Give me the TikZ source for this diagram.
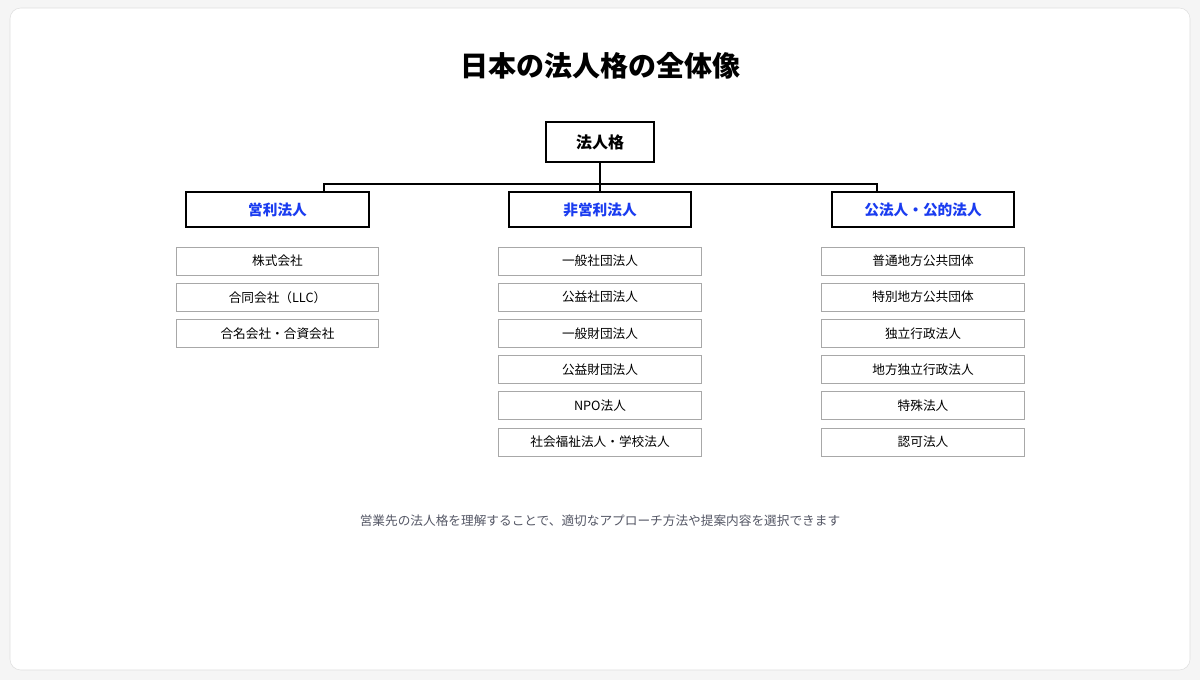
\documentclass[tikz,border=0pt]{standalone}
\usepackage{fontspec}
\setmainfont{Noto Sans CJK JP}
\newfontfamily\jpb{Noto Sans CJK JP Bold}
\definecolor{blu}{HTML}{1A3CF0}
\definecolor{gr}{HTML}{555866}
\definecolor{bx}{HTML}{A8A8A8}
\begin{document}
\begin{tikzpicture}[x={(0.75pt,0)},y={(0,-0.75pt)},
 root/.style={draw=black,line width=1.3pt,minimum width=81pt,minimum height=30pt,font=\bfseries\fontsize{12}{14}\selectfont,inner sep=0},
 cat/.style={draw=black,line width=1.3pt,minimum width=137pt,minimum height=26pt,text=blu,font=\bfseries\fontsize{11}{13}\selectfont,inner sep=0},
 item/.style={draw=bx,line width=0.6pt,minimum width=152pt,minimum height=21pt,font=\fontsize{9.5}{11}\selectfont,inner sep=0},
 conn/.style={line width=1.3pt}]
\fill[gray!8] (0,0) rectangle (1200,680);
\draw[draw=gray!25,fill=white,rounded corners=8pt] (10,8) rectangle (1190,670);
\node[font=\bfseries\fontsize{21}{25}\selectfont] (title) at (600,66) {日本の法人格の全体像};
\node[root] (root) at (600,142) {法人格};
\node[cat] (c1) at (277.5,209.5) {営利法人};
\node[cat] (c2) at (600,209.5) {非営利法人};
\node[cat] (c3) at (923,209.5) {公法人・公的法人};
\coordinate (j) at (600,184);
\draw[conn] (root.south) -- (j);
\draw[conn] (c1.north -| 324,0) |- (j) -| (c3.north -| 877,0);
\draw[conn] (j) -- (c2.north);
\foreach \t [count=\i] in {株式会社,合同会社（LLC）,合名会社・合資会社}
  \node[item] (a\i) at (277.5,{261+36.2*(\i-1)}) {\t};
\foreach \t [count=\i] in {一般社団法人,公益社団法人,一般財団法人,公益財団法人,NPO法人,社会福祉法人・学校法人}
  \node[item] (b\i) at (600,{261+36.2*(\i-1)}) {\t};
\foreach \t [count=\i] in {普通地方公共団体,特別地方公共団体,独立行政法人,地方独立行政法人,特殊法人,認可法人}
  \node[item] (d\i) at (923,{261+36.2*(\i-1)}) {\t};
\node[text=gr,font=\fontsize{9.5}{11}\selectfont] (foot) at (600,521) {営業先の法人格を理解することで、適切なアプローチ方法や提案内容を選択できます};
\end{tikzpicture}
\end{document}
